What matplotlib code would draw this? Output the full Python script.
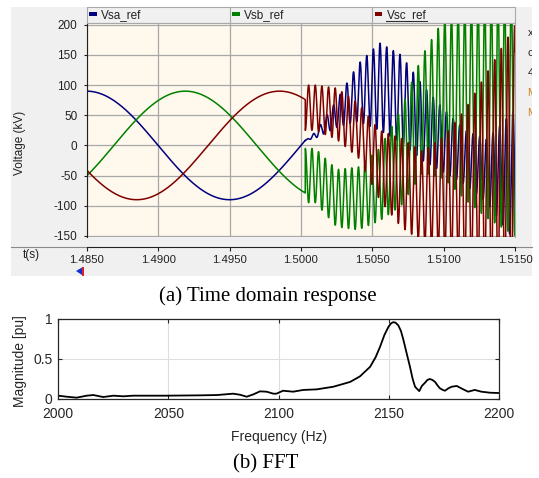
import numpy as np
import matplotlib
matplotlib.use("Agg")
import matplotlib.pyplot as plt
from matplotlib.patches import Rectangle, Polygon

plt.rcParams["axes.unicode_minus"] = False

W, H = 539, 478

# --- (a) time domain, PSCAD style -----------------------------------------
SERIES = ["Vsa_ref", "Vsb_ref", "Vsc_ref"]
T_START, T_END = 1.4850, 1.5150
V_PEAK = 90.0           # kV, pre-disturbance amplitude
F_GRID = 50.0           # Hz
PEAK_TIMES = [1.4850, 1.4919, 1.4985]   # time of positive peak, per phase
T_DIST = 1.5003         # oscillation onset
F_OSC = 2150.0          # Hz, from the FFT peak

# oscillation envelopes (kV)
T_ENV = [1.5003, 1.5010, 1.5025, 1.5040, 1.5055, 1.5070, 1.5085, 1.5100, 1.5115, 1.5130, 1.5150]
VSA_UPPER = [8, 22, 75, 135, 170, 150, 100, 60, 25, 10, 60]
VSA_LOWER = [8, 12, 30, 40, 25, 5, -25, -45, -65, -95, -160]
VSB_UPPER = [-5, -5, -40, -36, -5, 60, 150, 210, 230, 240, 250]
VSB_LOWER = [-95, -95, -135, -140, -125, -100, -45, -55, -90, -120, -150]
VSC_UPPER = [100, 100, 95, 70, 25, 12, -10, 15, 60, 120, 200]
VSC_LOWER = [25, 25, 10, -20, -90, -135, -160, -180, -200, -220, -260]

Y_TICKS = [-150, -100, -50, 0, 50, 100, 150, 200]
T_TICKS = [1.4850, 1.4900, 1.4950, 1.5000, 1.5050, 1.5100, 1.5150]

# --- (b) FFT ---------------------------------------------------------------
FREQ_HZ = [2000, 2003.8, 2008.3, 2012.9, 2015.9, 2020.4, 2025, 2029.5, 2034, 2049,
           2064, 2072, 2079.4, 2082.4, 2085.5, 2088.5, 2091.5, 2094.5, 2097.6, 2099,
           2102, 2106.6, 2111.2, 2117.2, 2124.8, 2132.4, 2136.9, 2141.5, 2144, 2146,
           2148, 2149.8, 2151, 2152, 2153, 2154.3, 2155.5, 2156.6, 2158, 2159.6,
           2160.8, 2161.9, 2163.8, 2165, 2166.4, 2167.5, 2168.6, 2169.8, 2171, 2172,
           2173.2, 2174.5, 2175.5, 2177, 2178.5, 2180.8, 2183.8, 2186, 2189, 2192,
           2196, 2200]
MAG_PU = [0.038, 0.025, 0.013, 0.038, 0.046, 0.021, 0.038, 0.030, 0.038, 0.038,
          0.042, 0.046, 0.063, 0.050, 0.025, 0.054, 0.092, 0.088, 0.063, 0.063,
          0.100, 0.088, 0.110, 0.117, 0.150, 0.210, 0.280, 0.400, 0.520, 0.650,
          0.800, 0.900, 0.945, 0.960, 0.955, 0.920, 0.850, 0.740, 0.580, 0.400,
          0.250, 0.150, 0.095, 0.160, 0.200, 0.235, 0.247, 0.235, 0.210, 0.170,
          0.130, 0.110, 0.100, 0.130, 0.150, 0.160, 0.117, 0.088, 0.110, 0.088,
          0.075, 0.071]

COLORS = ["#000080", "#008000", "#800000"]
TXT = "#222222"
SANS = "Liberation Sans"
SERIF = "Liberation Serif"


def px_box(x0, y0, x1, y1):
    return [x0 / W, 1 - y1 / H, (x1 - x0) / W, (y1 - y0) / H]


def phase_signal(t, t_peak, upper, lower, phase):
    pre = V_PEAK * np.cos(2 * np.pi * F_GRID * (t - t_peak))
    up = np.interp(t, T_ENV, upper)
    lo = np.interp(t, T_ENV, lower)
    osc = (up + lo) / 2 + (up - lo) / 2 * np.sin(2 * np.pi * F_OSC * (t - T_DIST) + phase)
    return np.where(t < T_DIST, pre, osc)


def draw_chrome(deco):
    # grey PSCAD panel, legend strip and time-axis strip
    deco.add_patch(Rectangle((11, 7), 521, 268.5, fc="#f0f0f0", ec="none"))
    deco.add_patch(Rectangle((86.7, 7), 428.6, 15.7, fc="#f0f0f0", ec="#a8a8a8", lw=0.8))
    for i in range(1, 3):
        x = 86.7 + i * 428.6 / 3
        deco.plot([x, x], [7, 22.7], color="#a8a8a8", lw=0.8)
    deco.plot([11, 86.7], [246.5, 246.5], color="#8a8a8a", lw=0.8)
    deco.plot([515.3, 532], [246.5, 246.5], color="#8a8a8a", lw=0.8)
    for i, (name, c) in enumerate(zip(SERIES, COLORS)):
        x0 = 86.7 + i * 428.6 / 3
        deco.add_patch(Rectangle((x0 + 2.5, 11.8), 7.5, 4.6, fc=c, ec="none"))
        deco.text(x0 + 14.5, 15, name, fontsize=8.5, family=SANS, color=TXT, va="center")
    deco.plot([386, 427], [20.7, 20.7], color="#303030", lw=0.8)   # selected trace
    # cursor marker below the time axis
    deco.add_patch(Polygon([[76, 271], [82, 267.5], [82, 275]], fc="#1030d0", ec="none"))
    deco.add_patch(Rectangle((82, 266.5), 2, 9, fc="#e02020", ec="none"))
    # cut-off side panel text on the right
    for y, s, c in [(33, "x", TXT), (53, "c", TXT), (73, "4", TXT), (93, "M", "#d08020"), (113, "M", "#d08020")]:
        deco.text(527.5, y, s, fontsize=8, family=SANS, color=c, va="center")
    deco.add_patch(Rectangle((532, 0), 10, 240, fc="white", ec="none", zorder=5))


def plot_time_domain(fig):
    ax = fig.add_axes(px_box(86.7, 22.7, 515.3, 236.8), zorder=2)
    ax.set_facecolor("#fef9ec")
    t = np.arange(T_START, T_END, 2e-6)
    envs = [(VSA_UPPER, VSA_LOWER, 0.0), (VSB_UPPER, VSB_LOWER, np.pi / 2), (VSC_UPPER, VSC_LOWER, -np.pi / 2)]
    for name, tp, (up, lo, ph), c in zip(SERIES, PEAK_TIMES, envs, COLORS):
        ax.plot(t, phase_signal(t, tp, up, lo, ph), color=c, lw=1.1, label=name)

    ax.set_xlim(T_START, T_END)
    ax.set_ylim(-151.5, 203.5)
    ax.set_yticks(Y_TICKS)
    ax.set_xticks(T_TICKS)
    ax.set_xticklabels([f"{v:.4f}" for v in T_TICKS])
    ax.grid(True, color="#a8a8a8", lw=0.9)
    ax.set_axisbelow(True)

    for s in ["top", "right"]:
        ax.spines[s].set_color("#a8a8a8")
        ax.spines[s].set_linewidth(0.8)
    ax.spines["left"].set_color("#202020")
    ax.spines["bottom"].set_color("#202020")
    ax.spines["bottom"].set_position(("outward", 7.0))
    ax.tick_params(axis="y", direction="out", length=2.2, width=0.8, pad=4.5,
                   labelsize=8.5, labelcolor=TXT, color="#202020")
    ax.tick_params(axis="x", direction="out", length=2.9, width=0.8, pad=3.0,
                   labelsize=8.2, labelcolor=TXT, color="#202020")
    for lab in ax.get_xticklabels() + ax.get_yticklabels():
        lab.set_family(SANS)

    ax.set_ylabel("Voltage (kV)", fontsize=8.5, family=SANS, color=TXT, va="center")
    ax.yaxis.set_label_coords(-0.155, 0.44)
    ax.set_xlabel("t(s)", fontsize=8.5, family=SANS, color=TXT, va="center")
    ax.xaxis.set_label_coords(-0.128, -0.085)


def plot_fft(fig):
    ax = fig.add_axes(px_box(58.3, 319, 499, 398.7), zorder=2)
    ax.plot(FREQ_HZ, MAG_PU, color="black", lw=1.3)
    ax.set_xlim(2000, 2200)
    ax.set_ylim(0, 1)
    ax.set_xticks([2000, 2050, 2100, 2150, 2200])
    ax.set_yticks([0, 0.5, 1])
    ax.set_yticklabels(["0", "0.5", "1"])
    ax.grid(True, color="#dedede", lw=0.8)
    for s in ax.spines.values():
        s.set_color("#262626")
        s.set_linewidth(0.9)
    ax.tick_params(direction="in", top=True, right=True, length=3, width=0.8,
                   labelsize=10, labelcolor="#262626", color="#262626")
    ax.tick_params(axis="x", pad=6)
    ax.tick_params(axis="y", pad=4)
    for lab in ax.get_xticklabels() + ax.get_yticklabels():
        lab.set_family(SANS)
        if lab in ax.get_yticklabels():
            lab.set_va("center_baseline")
    ax.set_xlabel("Frequency (Hz)", fontsize=10, family=SANS, color="#262626", va="center")
    ax.xaxis.set_label_coords(0.5, (398.7 - 437.5) / 79.7)
    ax.set_ylabel("Magnitude [pu]", fontsize=10, family=SANS, color="#262626", va="center")
    ax.yaxis.set_label_coords((20 - 58.3) / 440.7, 0.473)


def main():
    fig = plt.figure(figsize=(W / 100, H / 100), dpi=100)
    fig.patch.set_facecolor("white")
    deco = fig.add_axes([0, 0, 1, 1], zorder=0)
    deco.set_xlim(0, W)
    deco.set_ylim(H, 0)
    deco.axis("off")
    draw_chrome(deco)

    plot_time_domain(fig)
    plot_fft(fig)

    fig.text(268 / W, 1 - 296 / H, "(a) Time domain response", family=SERIF,
             fontsize=15, ha="center", va="center", color="black")
    fig.text(266 / W, 1 - 464 / H, "(b) FFT", family=SERIF,
             fontsize=15, ha="center", va="center", color="black")
    fig.savefig("out.png", dpi=100)


if __name__ == "__main__":
    main()
